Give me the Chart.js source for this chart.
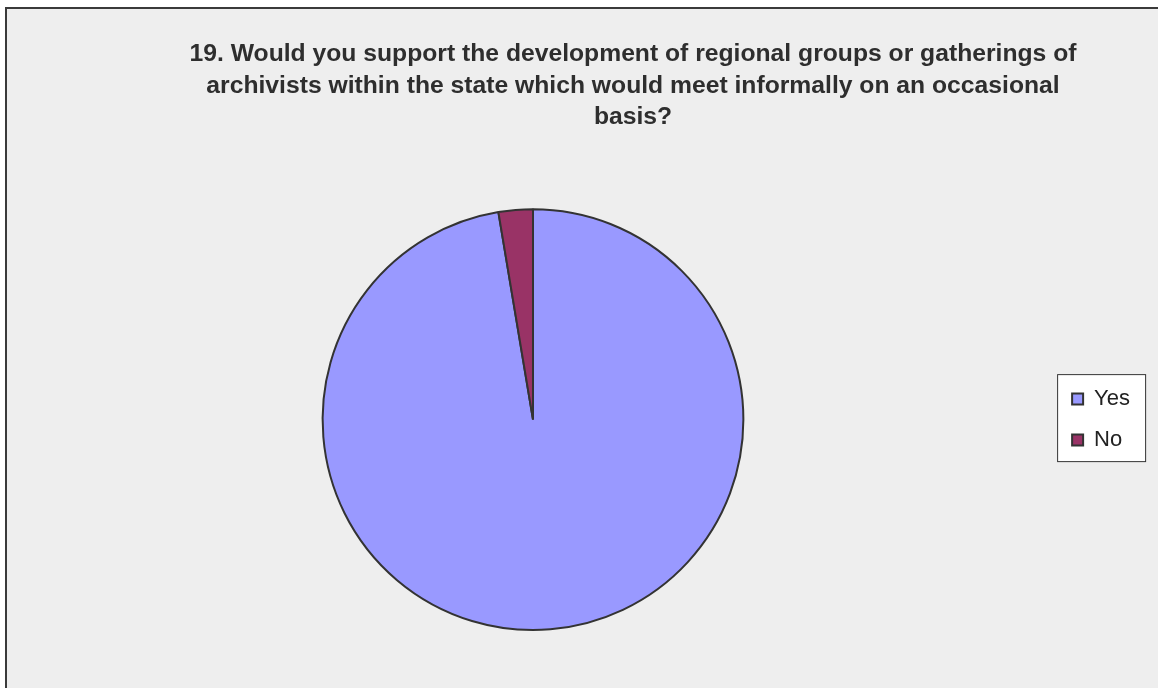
<!DOCTYPE html>
<html>
<head>
<meta charset="utf-8">
<title>Regional groups survey</title>
<script src="https://cdn.jsdelivr.net/npm/chart.js@4/dist/chart.umd.min.js"></script>
<style>
  html,body{margin:0;padding:0;background:#fff;overflow:hidden;}
  #frame{position:absolute;left:5px;top:7px;width:1170px;height:700px;background:#eeeeee;border-left:2px solid #3a3a3a;border-top:2px solid #3a3a3a;}
  #chart{position:absolute;left:0;top:0;}
</style>
</head>
<body>
<div id="frame"></div>
<canvas id="chart" width="1158" height="688"></canvas>
<script>
// survey answers, question 19
const titleLines = [
  '19. Would you support the development of regional groups or gatherings of',
  'archivists within the state which would meet informally on an occasional',
  'basis?'
];
const answers = ['Yes', 'No'];
const counts = [37, 1];

const sliceColors = ['#9999ff', '#993366'];
const PIE_CX = 533; // pie is not under the title centre in the original

const legendFrame = {
  id: 'legendFrame',
  afterLayout(chart){
    const a = chart.chartArea;
    a.left = 2*PIE_CX - a.right;
    a.width = a.right - a.left;
    // keep legend centred on the pie, not on the whole canvas
    const lg = chart.legend;
    if(lg){ lg.top = a.top; lg.bottom = a.bottom; lg.height = a.bottom - a.top; }
  },
  beforeDraw(chart){
    const hb = chart.legend && chart.legend.legendHitBoxes;
    if(!hb || !hb.length) return;
    const ctx = chart.ctx;
    const x = hb[0].left - 15, y = hb[0].top - 14;
    ctx.save();
    ctx.fillStyle = '#ffffff';
    ctx.strokeStyle = '#333333';
    ctx.lineWidth = 1;
    ctx.fillRect(x, y, 88, 87);
    ctx.strokeRect(x + 0.5, y + 0.5, 88, 87);
    ctx.restore();
  }
};

document.addEventListener('DOMContentLoaded',()=>{
  const ctx = document.getElementById('chart').getContext('2d');
  new Chart(ctx,{
    type:'pie',
    data:{
      labels:answers,
      datasets:[{data:counts,backgroundColor:sliceColors,borderColor:'#333333',borderWidth:2,hoverOffset:0}]
    },
    options:{
      responsive:false,
      animation:false,
      layout:{padding:{left:126,right:18,top:0,bottom:57}},
      plugins:{
        title:{
          display:true,
          text:titleLines,
          color:'#2e2e2e',
          font:{family:'"Liberation Sans", Arial, sans-serif',size:24.7,weight:'bold',lineHeight:1.265},
          padding:{top:39,bottom:75.5}
        },
        legend:{
          position:'right',
          labels:{
            color:'#222222',
            font:{family:'"Liberation Sans", Arial, sans-serif',size:22},
            boxWidth:11,
            boxHeight:11,
            padding:19
          }
        },
        tooltip:{enabled:false}
      }
    },
    plugins:[legendFrame]
  });
});
</script>
</body>
</html>
